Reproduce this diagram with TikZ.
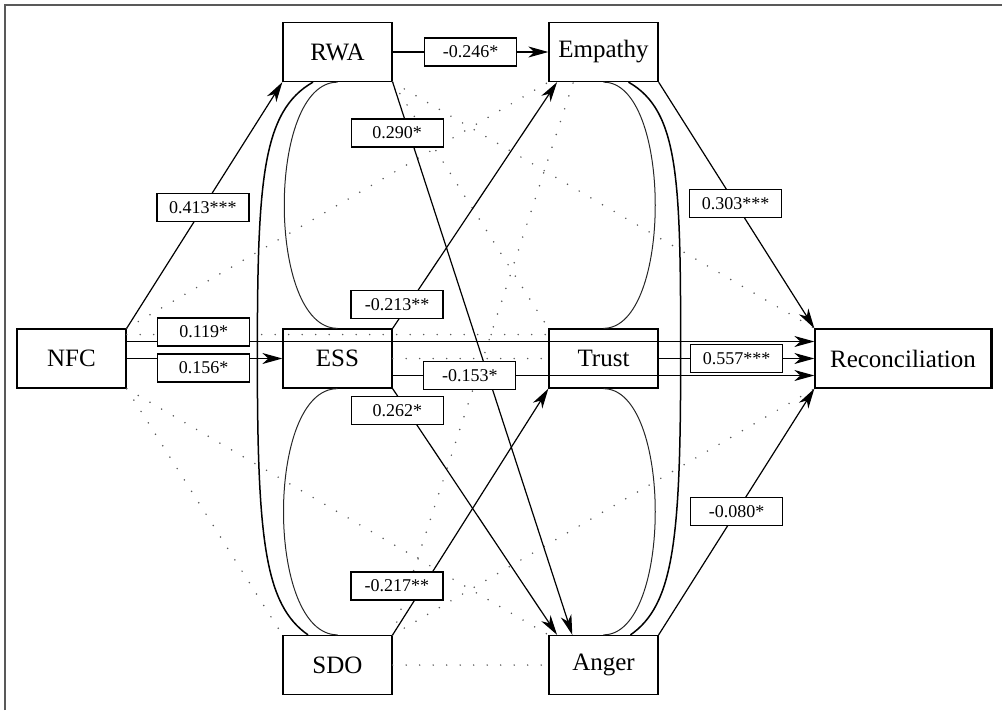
\documentclass[tikz,border=0pt]{standalone}
\usepackage{fontspec}
\setmainfont{Liberation Serif}
\usetikzlibrary{arrows.meta}

\begin{document}
\begin{tikzpicture}[
  x=1pt,y=-1pt,
  every matrix/.style={ampersand replacement=\&,column sep=155.7pt,row sep=246.2pt},
  varNode/.style={draw,line width=1.3pt,rectangle,minimum width=109pt,minimum height=59pt,inner sep=2pt,font=\fontsize{25}{30}\selectfont},
  coefLabel/.style={draw,fill=white,line width=1.3pt,minimum width=92pt,minimum height=28pt,inner sep=0pt,font=\fontsize{18}{20}\selectfont},
  varToVar/.style={->,>={Stealth[length=20pt,width=11pt,inset=6pt]},line width=1.2pt,black},
  nullPath/.style={line width=1.7pt,dash pattern=on 0pt off 13.5pt,line cap=round,black!65},
  covInner/.style={line width=1pt,black!85},
  covOuter/.style={line width=1.5pt,black},
  frameLine/.style={line width=2pt,black!65}]

  \useasboundingbox (0,0) rectangle (1002,710);
  \draw [frameLine] (5,710) -- (5,5) -- (1002,5);

  % Position the variables using a matrix layout
  \matrix at (504,358.5) {
     \& \node[varNode] (rwa) {RWA}; \& \node[varNode] (emp) {Empathy}; \& \\
    \node[varNode] (nfc) {NFC}; \& \node[varNode] (ess) {ESS}; \& \node[varNode] (trust) {Trust}; \& \node[varNode,minimum width=176pt] (rec) {Reconciliation}; \\
     \& \node[varNode] (sdo) {SDO}; \& \node[varNode] (anger) {Anger}; \& \\
  };
  \draw [line width=3pt] (rec.north east) -- (rec.south east);

  % non significant paths
  \draw [nullPath] (nfc.north east) edge (emp.south west);
  \draw [nullPath] ([yshift=24pt]nfc.east) edge ([yshift=24pt]trust.west);
  \draw [nullPath] (nfc.south east) edge (anger.north west);
  \draw [nullPath] (nfc.south east) edge (sdo.north west);
  \draw [nullPath] (rwa.south east) edge (trust.north west);
  \draw [nullPath] (rwa.south east) edge (rec.north west);
  \draw [nullPath] (ess.east) edge (trust.west);
  \draw [nullPath] (sdo.north east) edge (emp.225);
  \draw [nullPath] (sdo.east) edge (anger.west);
  \draw [nullPath] (sdo.north east) edge (rec.south west);

  % covariances
  \draw [covInner] (rwa.south) .. controls +(-71,0) and +(-71,0) .. (ess.north);
  \draw [covInner] (ess.south) .. controls +(-72,0) and +(-72,0) .. (sdo.north);
  \draw [covInner] (emp.south) .. controls +(69,0) and +(69,0) .. (trust.north);
  \draw [covInner] (trust.south) .. controls +(69,0) and +(69,0) .. (anger.north);
  \draw [covOuter] ([xshift=-24.5pt]rwa.south) .. controls +(-51,29) and +(0,-178) .. ([xshift=-25pt]ess.west)
    .. controls +(0,182) and +(-43,-30) .. ([xshift=-29.5pt]sdo.north);
  \draw [covOuter] ([xshift=25pt]emp.south) .. controls +(51,29) and +(0,-178) .. ([xshift=22pt]trust.east)
    .. controls +(0,182) and +(43,-30) .. ([xshift=27pt]anger.north);

  % NFC to mediators and outcome
  \draw [varToVar] (nfc.north east) -- node[coefLabel,pos=0.49] {0.413***} (rwa.south west);
  \draw [varToVar] ([yshift=17pt]nfc.east) -- node[coefLabel,pos=0.112,yshift=9.5pt] {0.119*} ([yshift=17pt]rec.west);
  \draw [varToVar] (nfc.east) -- node[coefLabel,pos=0.494,yshift=-9.5pt] {0.156*} (ess.west);

  % first mediators to second mediators
  \draw [varToVar] (rwa.east) -- node[coefLabel] {-0.246*} (emp.west);
  \draw [varToVar] (rwa.south east) -- node[coefLabel,pos=0.092,xshift=-12pt] {0.290*} (anger.136);
  \draw [varToVar] (ess.north east) -- node[coefLabel,pos=0.097,xshift=-11.5pt] {-0.213**} (emp.213);
  \draw [varToVar] (ess.south east) -- node[coefLabel,pos=0.089,xshift=-10pt] {0.262*} (anger.147);
  \draw [varToVar] ([yshift=-17pt]ess.east) -- node[coefLabel,pos=0.183] {-0.153*} ([yshift=-17pt]rec.west);
  \draw [varToVar] (sdo.north east) -- node[coefLabel,pos=0.198,xshift=-26.5pt] {-0.217**} (trust.south west);

  % second mediators to reconciliation
  \draw [varToVar] (emp.south east) -- node[coefLabel,pos=0.494] {0.303***} (rec.north west);
  \draw [varToVar] (trust.east) -- node[coefLabel] {0.557***} (rec.west);
  \draw [varToVar] (anger.north east) -- node[coefLabel] {-0.080*} (rec.south west);
\end{tikzpicture}
\end{document}
